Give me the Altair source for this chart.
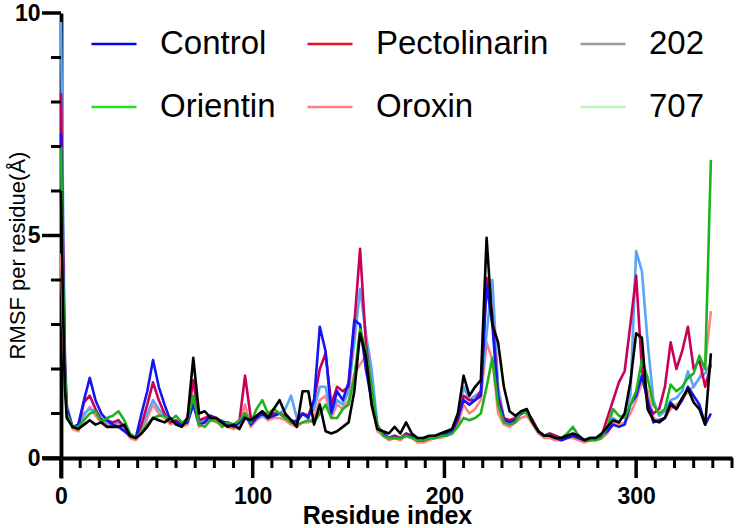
import altair as alt
import pandas as pd

residue = [0, 1, 2, 3, 6, 9, 12, 15, 18, 21,
           24, 27, 30, 33, 36, 39, 42, 45, 48, 51,
           54, 57, 60, 63, 66, 69, 72, 75, 78, 81,
           84, 87, 90, 93, 96, 99, 102, 105, 108, 111,
           114, 117, 120, 123, 126, 129, 132, 135, 138, 141,
           144, 147, 150, 153, 156, 159, 162, 165, 168, 171,
           174, 177, 180, 183, 186, 189, 192, 195, 198, 201,
           204, 207, 210, 213, 216, 219, 222, 225, 228, 231,
           234, 237, 240, 243, 246, 249, 252, 255, 258, 261,
           264, 267, 270, 273, 276, 279, 282, 285, 288, 291,
           294, 297, 300, 303, 306, 309, 312, 315, 318, 321,
           324, 327, 330, 333, 336, 339]

control = [7.3, 4.5, 2.0, 1.1, 0.7, 0.75, 1.3, 1.8, 1.3, 1.0,
           0.85, 0.75, 0.7, 0.6, 0.5, 0.45, 1.0, 1.5, 2.2, 1.6,
           1.2, 0.85, 0.8, 0.75, 0.8, 1.2, 0.75, 0.8, 0.95, 0.85,
           0.8, 0.75, 0.7, 0.8, 1.0, 0.75, 0.9, 1.0, 0.9, 0.95,
           1.0, 0.9, 0.85, 0.8, 1.0, 0.9, 1.3, 2.95, 2.4, 1.0,
           1.5, 1.3, 1.7, 3.1, 3.0, 2.0, 1.3, 0.7, 0.55, 0.45,
           0.45, 0.45, 0.5, 0.5, 0.4, 0.4, 0.45, 0.45, 0.5, 0.55,
           0.6, 0.9, 1.3, 1.2, 1.3, 1.4, 3.9, 3.0, 1.3, 0.85,
           0.8, 0.85, 1.0, 1.05, 0.8, 0.6, 0.5, 0.5, 0.45, 0.4,
           0.45, 0.5, 0.45, 0.4, 0.45, 0.45, 0.5, 0.6, 0.75, 0.7,
           0.75, 1.2, 1.4, 1.85, 1.3, 0.8, 0.85, 0.9, 1.25, 1.1,
           1.3, 1.6, 1.4, 1.2, 0.75, 1.0]

pectolinarin = [8.2, 5.0, 2.2, 1.1, 0.7, 0.7, 1.25, 1.4, 1.1, 0.85,
                0.85, 0.8, 0.85, 0.7, 0.5, 0.45, 0.75, 1.2, 1.7, 1.3,
                1.0, 0.8, 0.85, 0.75, 0.9, 1.75, 0.85, 0.9, 0.95, 0.9,
                0.8, 0.8, 0.75, 0.8, 1.85, 0.9, 0.9, 1.05, 0.95, 1.0,
                1.0, 0.95, 0.8, 0.85, 1.0, 0.95, 1.3, 2.0, 2.35, 1.2,
                1.6, 1.5, 1.6, 3.0, 4.7, 2.6, 1.5, 0.7, 0.55, 0.45,
                0.5, 0.45, 0.55, 0.5, 0.4, 0.4, 0.45, 0.5, 0.5, 0.5,
                0.6, 0.85, 1.4, 1.3, 1.3, 1.5, 4.05, 3.2, 1.4, 0.9,
                0.85, 0.9, 1.0, 1.05, 0.85, 0.6, 0.5, 0.55, 0.5, 0.45,
                0.5, 0.5, 0.45, 0.4, 0.4, 0.45, 0.5, 0.9, 1.3, 1.7,
                1.95, 3.0, 4.1, 2.0, 1.2, 1.0, 1.1, 1.6, 2.6, 2.0,
                2.4, 2.95, 2.0, 2.2, 1.6, 2.1]

orientin = [7.0, 4.2, 2.0, 1.0, 0.7, 0.7, 0.85, 1.0, 1.05, 0.8,
            0.9, 0.95, 1.05, 0.85, 0.55, 0.45, 0.6, 0.75, 0.9, 0.95,
            0.95, 0.85, 0.95, 0.8, 0.85, 1.4, 0.75, 0.7, 0.85, 0.85,
            0.7, 0.8, 0.75, 0.85, 1.0, 0.8, 1.1, 1.3, 1.0, 1.1,
            1.0, 0.9, 0.8, 0.75, 0.8, 0.85, 0.8, 1.0, 1.2, 0.9,
            0.9, 1.1, 1.2, 1.8, 2.9, 2.4, 1.6, 0.75, 0.5, 0.45,
            0.45, 0.45, 0.5, 0.45, 0.4, 0.4, 0.45, 0.45, 0.5, 0.5,
            0.55, 0.7, 0.9, 0.85, 0.9, 1.0, 1.6, 2.25, 1.2, 0.8,
            0.75, 0.8, 1.05, 1.0, 0.8, 0.6, 0.5, 0.5, 0.45, 0.45,
            0.55, 0.7, 0.5, 0.4, 0.4, 0.4, 0.45, 0.7, 1.1, 0.95,
            0.9, 1.2, 1.5, 2.2, 1.8, 1.2, 1.0, 1.1, 1.65, 1.5,
            1.6, 1.8, 1.9, 2.3, 2.0, 6.7]

oroxin = [4.6, 3.0, 1.8, 1.2, 0.65, 0.6, 0.95, 1.15, 0.95, 0.8,
          0.75, 0.7, 0.8, 0.65, 0.45, 0.4, 0.55, 0.9, 1.2, 1.0,
          0.9, 0.75, 0.8, 0.7, 0.75, 1.3, 0.7, 0.8, 0.85, 0.8,
          0.75, 0.7, 0.65, 0.7, 1.2, 0.7, 0.85, 0.95, 0.85, 0.9,
          0.9, 0.85, 0.75, 0.7, 0.8, 0.8, 0.9, 1.3, 1.4, 0.9,
          1.2, 1.1, 1.3, 1.9, 2.1, 2.3, 1.2, 0.6, 0.5, 0.4,
          0.45, 0.4, 0.5, 0.45, 0.35, 0.35, 0.4, 0.45, 0.45, 0.5,
          0.55, 0.75, 1.2, 1.0, 1.1, 1.3, 2.6, 2.2, 1.0, 0.75,
          0.7, 0.8, 0.9, 0.95, 0.75, 0.55, 0.45, 0.45, 0.4, 0.4,
          0.45, 0.45, 0.4, 0.35, 0.4, 0.4, 0.45, 0.55, 0.8, 0.75,
          0.8, 1.0, 1.3, 1.7, 1.5, 0.9, 0.85, 0.9, 1.1, 1.2,
          1.3, 1.5, 1.6, 1.8, 2.1, 3.3]

s202 = [9.8, 6.0, 2.5, 1.2, 0.7, 0.7, 1.0, 1.1, 1.05, 0.9,
        0.8, 0.75, 0.8, 0.65, 0.5, 0.45, 0.7, 1.0, 1.3, 1.1,
        0.95, 0.85, 0.8, 0.75, 0.8, 1.4, 0.8, 0.85, 0.9, 0.85,
        0.85, 0.75, 0.7, 0.8, 0.95, 0.75, 0.9, 0.95, 0.9, 1.0,
        1.0, 1.1, 1.4, 0.9, 1.0, 0.95, 1.1, 1.6, 1.6, 1.0,
        1.3, 1.2, 1.5, 2.6, 3.8, 2.8, 2.0, 0.75, 0.55, 0.45,
        0.5, 0.45, 0.55, 0.5, 0.4, 0.45, 0.45, 0.5, 0.5, 0.55,
        0.6, 0.95, 1.6, 1.3, 1.4, 1.5, 2.8, 4.0, 1.6, 0.9,
        0.8, 0.85, 1.0, 1.05, 0.85, 0.6, 0.5, 0.55, 0.45, 0.45,
        0.5, 0.5, 0.45, 0.4, 0.45, 0.45, 0.5, 0.65, 0.9, 0.8,
        1.0, 1.4, 4.65, 4.2, 2.6, 1.3, 0.95, 1.05, 1.3, 1.35,
        1.5, 1.95, 1.6, 1.8, 1.9, 2.15]

s707 = [6.0, 3.5, 1.6, 0.9, 0.7, 0.65, 0.75, 0.85, 0.75, 0.8,
        0.7, 0.7, 0.7, 0.75, 0.5, 0.45, 0.55, 0.7, 0.9, 0.85,
        0.8, 0.9, 0.75, 0.7, 0.9, 2.25, 1.0, 1.05, 0.9, 0.9,
        0.8, 0.7, 0.75, 0.65, 0.9, 0.85, 0.95, 1.05, 0.9, 1.1,
        1.3, 1.0, 0.85, 0.7, 1.5, 1.5, 0.75, 1.2, 0.6, 0.55,
        0.6, 0.7, 0.8, 1.5, 2.8, 2.3, 1.2, 0.65, 0.6, 0.55,
        0.7, 0.55, 0.8, 0.55, 0.45, 0.45, 0.5, 0.5, 0.55, 0.6,
        0.65, 1.0, 1.85, 1.4, 1.6, 1.75, 4.95, 3.0, 2.6, 1.6,
        1.05, 0.95, 1.05, 1.1, 0.8, 0.6, 0.5, 0.5, 0.45, 0.45,
        0.5, 0.55, 0.5, 0.4, 0.45, 0.45, 0.55, 0.7, 0.85, 0.8,
        1.0, 1.7, 2.8, 2.7, 1.1, 0.85, 0.8, 0.9, 1.2, 1.1,
        1.35, 1.55, 1.25, 1.1, 0.75, 2.35]

# legend entries, listed column by column (3 columns x 2 rows)
legend_names = ["Control", "Orientin", "Pectolinarin", "Oroxin", "202", "707"]
legend_colors = ["#0000ff", "#22e022", "#e8101e", "#ff8080", "#9a9a9a", "#b8f5b8"]

draw_order = ["Oroxin", "202", "Pectolinarin", "Control", "Orientin", "707"]
line_colors = ["#ff8585", "#5aa5f5", "#c8005a", "#1414f5", "#1db31d", "#000000"]

x_minor_ticks = [0, 10, 20, 30, 40, 50, 60, 70, 80, 90, 100, 110, 120, 130, 140, 150,
                 160, 170, 180, 190, 200, 210, 220, 230, 240, 250, 260, 270, 280, 290,
                 300, 310, 320, 330, 340, 350]
x_major_ticks = [0, 100, 200, 300]
y_minor_ticks = [0, 1, 2, 3, 4, 5, 6, 7, 8, 9, 10]
y_major_ticks = [0, 5, 10]

# geometry: the scale domains reach a little below/left of zero so that
# the tick marks lie inside the drawn data area
PX_X = 671 / 350          # pixels per residue
PX_Y = 44.5               # pixels per Angstrom
TICK_L, TICK_B = 19, 20   # longest tick lengths (y-axis, x-axis)
VIEW_W = 671 + TICK_L
VIEW_H = 445 + TICK_B
X_MIN = -TICK_L / PX_X
Y_MIN = -TICK_B / PX_Y
MINOR_LEN, MAJOR_LEN_X, MAJOR_LEN_Y = 10, 20, 19
LINE_W, MINOR_W, MAJOR_W = 2.6, 3.0, 3.5
FONT = "Liberation Sans"

values_by_series = {
    "Control": control, "Pectolinarin": pectolinarin, "Orientin": orientin,
    "Oroxin": oroxin, "202": s202, "707": s707,
}
rows = []
for name in draw_order:
    for r, v in zip(residue, values_by_series[name]):
        rows.append({"residue": r, "rmsf": v, "series": name, "seg": name, "w": LINE_W})

# tick marks as short two-point segments through the same scales
for t in x_minor_ticks:
    major = t in x_major_ticks
    length = (MAJOR_LEN_X if major else MINOR_LEN) / PX_Y
    w = MAJOR_W if major else MINOR_W
    for yv in (0, max(-length, Y_MIN)):
        rows.append({"residue": t, "rmsf": yv, "series": "tick", "seg": f"x{t}", "w": w})
for t in y_minor_ticks:
    major = t in y_major_ticks
    length = (MAJOR_LEN_Y if major else MINOR_LEN) / PX_X
    w = MAJOR_W if major else MINOR_W
    for xv in (max(-length, X_MIN), 0):
        rows.append({"residue": xv, "rmsf": t, "series": "tick", "seg": f"y{t}", "w": w})
df = pd.DataFrame(rows)

x_axis = alt.Axis(
    orient="bottom", offset=-TICK_B, values=x_major_ticks, title="Residue index", grid=False,
    ticks=False, domainWidth=3.8, domainColor="black",
    labelFont=FONT, labelFontSize=23, labelFontWeight="bold", labelColor="black",
    labelPadding=27, labelFlush=False, labelOverlap=False,
    titleFont=FONT, titleFontSize=25, titleFontWeight="bold", titleColor="black",
    titleBaseline="alphabetic", titleY=65,
)
y_axis = alt.Axis(
    orient="left", offset=-TICK_L, values=y_major_ticks, title="RMSF per residue(Å)", grid=False,
    ticks=False, domainWidth=3.8, domainColor="black",
    labelFont=FONT, labelFontSize=23, labelFontWeight="bold", labelColor="black",
    labelPadding=21, labelFlush=False, labelOverlap=False,
    titleFont=FONT, titleFontSize=22, titleFontWeight="normal", titleColor="black",
    titleAngle=270, titleBaseline="alphabetic", titleAlign="center",
    titleX=-37, titleY=242,
)

x_scale = alt.Scale(domain=[X_MIN, 350], nice=False, zero=False)
y_scale = alt.Scale(domain=[Y_MIN, 10], nice=False, zero=False)

lines = alt.Chart(df).mark_line(strokeJoin="round", clip=False).encode(
    x=alt.X("residue:Q", scale=x_scale, axis=x_axis),
    y=alt.Y("rmsf:Q", scale=y_scale, axis=y_axis),
    color=alt.Color(
        "series:N",
        scale=alt.Scale(domain=draw_order + ["tick"], range=line_colors + ["#000000"]),
        legend=None,
    ),
    detail=alt.Detail("seg:N"),
    strokeWidth=alt.StrokeWidth("w:Q", scale=None, legend=None),
)

legend_layer = alt.Chart(df).transform_filter("false").mark_line().encode(
    x=alt.X("residue:Q", scale=x_scale, axis=None),
    y=alt.Y("rmsf:Q", scale=y_scale, axis=None),
    color=alt.Color(
        "series:N",
        scale=alt.Scale(domain=legend_names, range=legend_colors),
        legend=alt.Legend(
            title=None, orient="none", legendX=29 + TICK_L, legendY=7, columns=3,
            symbolType="stroke", symbolSize=2025, symbolStrokeWidth=2.5,
            labelFont=FONT, labelFontSize=33, labelColor="black", labelLimit=400,
            labelOffset=22, columnPadding=26, rowPadding=22, padding=0,
        ),
    ),
)

chart = alt.layer(lines, legend_layer).resolve_scale(color="independent").resolve_axis(
    x="independent", y="independent"
).properties(
    width=VIEW_W, height=VIEW_H,
    padding={"left": 42, "top": 13, "right": 7, "bottom": 50},
    autosize=alt.AutoSizeParams(type="none"),
).configure_view(stroke=None)

chart.save("out.html", embed_options={"renderer": "svg", "actions": False})
